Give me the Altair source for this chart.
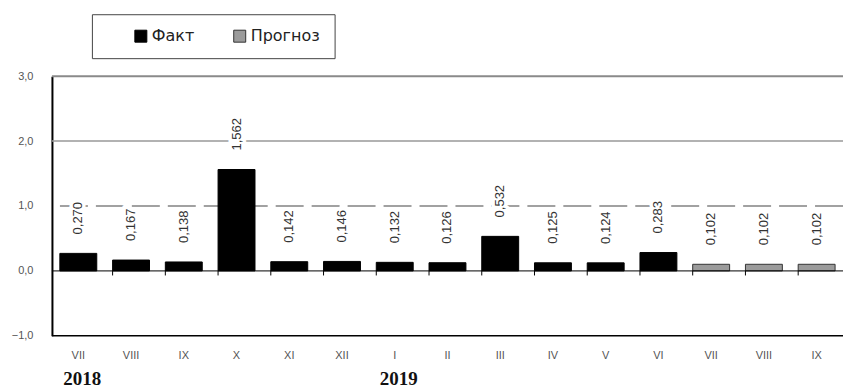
import json
import altair as alt
import pandas as pd

# ---- data ----
months = ["VII", "VIII", "IX", "X", "XI", "XII", "I", "II", "III", "IV", "V", "VI", "VII", "VIII", "IX"]
values = [0.270, 0.167, 0.138, 1.562, 0.142, 0.146, 0.132, 0.126, 0.532, 0.125, 0.124, 0.283, 0.102, 0.102, 0.102]
kinds = ["Факт"] * 12 + ["Прогноз"] * 3
years = ["2018", "2019"]
year_idx = [0, 6]
y_ticks = [-1, 0, 1, 2, 3]
kind_domain = ["Факт", "Прогноз"]

W, H = 792, 260

df = pd.DataFrame({"idx": list(range(len(months))), "month": months, "value": values, "kind": kinds})
df["label"] = [f"{v:.3f}".replace(".", ",") for v in values]
years_df = pd.DataFrame({"idx": year_idx, "year": years})
bound_df = pd.DataFrame({"idx": list(range(1, len(months)))})

month_expr = json.dumps(months) + "[datum.value]"

x_enc = alt.X(
    "idx:O",
    scale=alt.Scale(paddingInner=0.3, paddingOuter=0.15),
    axis=alt.Axis(labelExpr=month_expr, labelAngle=0, ticks=False, domain=False,
                  labelPadding=14, labelColor="#555", labelFontSize=11,
                  labelFont="Liberation Sans", title=None),
)
y_scale = alt.Scale(domain=[-1, 3], nice=False, zero=False)

base = alt.Chart(df)

def hrule(level, **kw):
    return alt.Chart(pd.DataFrame({"level": [level]})).mark_rule(**kw).encode(
        y=alt.Y("level:Q", scale=y_scale)
    )

top_line = hrule(3, color="#8a8a8a", strokeWidth=2)
line2 = hrule(2, color="#999999", strokeWidth=1.5)
line1 = hrule(1, color="#444", strokeWidth=1.2, strokeDash=[28, 8])
zero_line = hrule(0, color="black", strokeWidth=1)
bottom_line = hrule(-1, color="black", strokeWidth=1.5)

bars = base.mark_bar(strokeWidth=1).encode(
    x=x_enc,
    y=alt.Y("value:Q", scale=y_scale,
            axis=alt.Axis(values=y_ticks, grid=False, ticks=False, domainColor="black",
                          domainWidth=2, labelPadding=19, labelColor="#555", labelFontSize=11,
                          labelFont="Liberation Sans",
                          labelExpr="replace(format(datum.value, '.1f'), '.', ',')", title=None)),
    color=alt.Color("kind:N", scale=alt.Scale(domain=kind_domain, range=["#000000", "#9b9b9b"]),
                    legend=alt.Legend(orient="none", legendX=40, legendY=-62, direction="horizontal",
                                      title=None,
                                      strokeColor="#444", padding=14, symbolType="square",
                                      symbolSize=144, symbolStrokeColor="#333", symbolStrokeWidth=1,
                                      symbolOffset=27,
                                      labelFontSize=16, labelFont="DejaVu Sans", labelColor="#222",
                                      labelOffset=3, columnPadding=10)),
    stroke=alt.Stroke("kind:N", scale=alt.Scale(domain=kind_domain, range=["#000000", "#333333"]), legend=None),
)

bound_ticks = alt.Chart(bound_df).mark_rule(color="black", strokeWidth=1).encode(
    x=alt.X("idx:O", bandPosition=0),
    y=alt.datum(0),
    y2=alt.datum(-0.07),
)

text_kw = dict(angle=270, align="left", baseline="middle", dx=19, fontSize=13, font="Liberation Sans")
halo = base.mark_text(color="white", stroke="white", strokeWidth=7, **text_kw).encode(
    x="idx:O", y=alt.Y("value:Q", scale=y_scale), text="label:N")
labels = base.mark_text(color="#333", **text_kw).encode(
    x="idx:O", y=alt.Y("value:Q", scale=y_scale), text="label:N")

year_text = alt.Chart(years_df).mark_text(font="Liberation Serif", fontWeight="bold", fontSize=19,
                                          color="#111", align="center", baseline="middle", dx=4).encode(
    x="idx:O", y=alt.value(H + 43), text="year:N")

chart = alt.layer(
    line2, line1, top_line, bars, halo, labels, zero_line, bottom_line, bound_ticks, year_text
).properties(
    width=W, height=H, padding={"left": 3, "top": 5, "right": 0, "bottom": 0}
).configure_view(stroke=None)

chart.save("out.html", embed_options={"renderer": "svg", "actions": False})
